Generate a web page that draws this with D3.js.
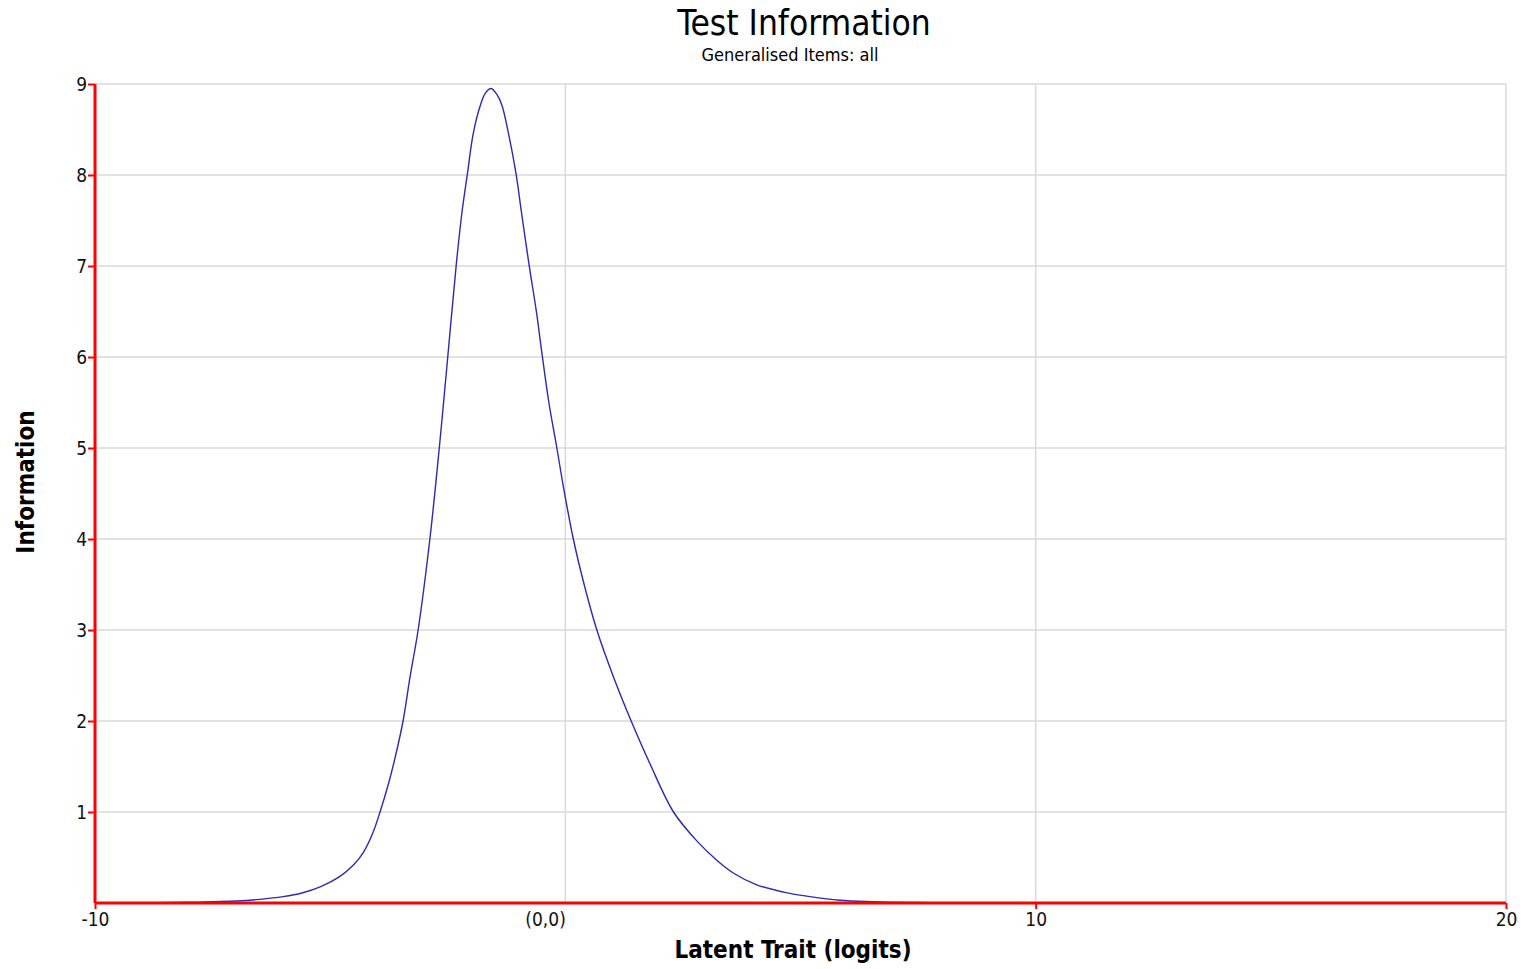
<!DOCTYPE html>
<html><head><meta charset="utf-8">
<script src="https://cdn.jsdelivr.net/npm/d3@7"></script>
<style>
html,body{margin:0;padding:0;background:#fff;}
svg text{font-family:"Liberation Sans Narrow","DejaVu Sans Condensed","Liberation Sans",sans-serif;}
</style></head>
<body><svg id="c" width="1524" height="969"></svg>
<script>
const theta = [-10, -9, -8, -7.5, -7, -6.5, -6, -5.6, -5.2, -4.8, -4.5, -4.3, -4.1, -3.94, -3.75, -3.6, -3.45, -3.3, -3.13, -2.88, -2.68, -2.5, -2.32, -2.2, -2.08, -1.96, -1.81, -1.7, -1.58, -1.45, -1.35, -1.21, -1.05, -0.93, -0.77, -0.61, -0.5, -0.35, -0.18, -0.04, 0.17, 0.4, 0.67, 1.02, 1.4, 1.8, 2.3, 2.8, 3.22, 3.57, 4.07, 4.64, 5.2, 5.84, 6.54, 7.5, 8.5, 10];
const information = [0.0, 0.003, 0.008, 0.015, 0.022, 0.04, 0.07, 0.11, 0.18, 0.29, 0.42, 0.55, 0.76, 1.0, 1.33, 1.64, 2.0, 2.49, 3.0, 4.0, 5.0, 6.0, 7.01, 7.58, 8.02, 8.45, 8.76, 8.90, 8.95, 8.88, 8.77, 8.46, 8.02, 7.58, 7.01, 6.48, 6.05, 5.5, 5.0, 4.57, 4.0, 3.5, 3.0, 2.49, 2.0, 1.53, 1.0, 0.68, 0.47, 0.33, 0.20, 0.12, 0.07, 0.03, 0.015, 0.006, 0.002, 0.0];
const xTickValues = [-10, 0, 10, 20];
const xTickLabels = ["-10", "(0,0)", "10", "20"];
const yTickValues = [1, 2, 3, 4, 5, 6, 7, 8, 9];
const titleText = "Test Information";
const subtitleText = "Generalised Items: all";
const xTitle = "Latent Trait (logits)";
const yTitle = "Information";

const svg = d3.select("#c");
const L = 95, R = 1506, T = 84, B = 903;
const x = d3.scaleLinear().domain([-10, 20]).range([L, R]);
const y = d3.scaleLinear().domain([0, 9]).range([B, T]);

// grid
svg.append("g").selectAll("line").data(yTickValues).join("line")
  .attr("x1", L).attr("x2", R).attr("y1", d => y(d)).attr("y2", d => y(d))
  .attr("stroke", "#d9d9d9").attr("stroke-width", 1.5);
svg.append("g").selectAll("line").data(xTickValues.slice(1)).join("line")
  .attr("x1", d => x(d)).attr("x2", d => x(d)).attr("y1", T).attr("y2", B)
  .attr("stroke", "#d9d9d9").attr("stroke-width", 1.5);

// curve
const pts = theta.map((t, i) => [t, information[i]]);
svg.append("path").datum(pts)
  .attr("d", d3.line().x(d => x(d[0])).y(d => y(Math.max(0, d[1]))).curve(d3.curveCatmullRom.alpha(0.5)))
  .attr("fill", "none").attr("stroke", "#2a2ab4").attr("stroke-width", 1.4);

const tickFont = "'Liberation Sans Narrow','DejaVu Sans Condensed',sans-serif";
// axes
const yAxis = d3.axisLeft(y).tickValues(yTickValues).tickSize(7).tickPadding(1);
const gy = svg.append("g").attr("transform", `translate(${L},0)`).call(yAxis);
gy.select(".domain").attr("stroke", "red").attr("stroke-width", 3).attr("d", `M0,${T}V${B}`);
gy.selectAll(".tick line").attr("stroke", "red").attr("stroke-width", 2);
gy.selectAll(".tick text").attr("font-size", 19).attr("fill", "#111").attr("font-family", tickFont);

const xAxis = d3.axisBottom(x).tickValues(xTickValues).tickSize(6).tickPadding(4)
  .tickFormat((d, i) => xTickLabels[i]);
const gx = svg.append("g").attr("transform", `translate(0,${B})`).call(xAxis);
gx.select(".domain").attr("stroke", "red").attr("stroke-width", 3).attr("d", `M${L},0H${R}`);
gx.selectAll(".tick line").attr("stroke", "red").attr("stroke-width", 2)
  .attr("y2", d => d === 0 ? 0 : 6);
gx.selectAll(".tick text").attr("font-size", 19).attr("fill", "#111").attr("font-family", tickFont)
  .attr("text-anchor", d => d === 0 ? "end" : "middle");

// titles
svg.append("text").attr("x", 804).attr("y", 35).attr("text-anchor", "middle")
  .attr("font-size", 35).attr("fill", "#000").text(titleText);
svg.append("text").attr("x", 790).attr("y", 61).attr("text-anchor", "middle")
  .attr("font-size", 18).attr("fill", "#000").text(subtitleText);
svg.append("text").attr("x", 793).attr("y", 958).attr("text-anchor", "middle")
  .attr("font-size", 24).attr("font-weight", "bold")
  .attr("font-family", "'Liberation Sans',Arial,sans-serif").attr("fill", "#000").text(xTitle);
svg.append("text").attr("transform", "translate(34,482) rotate(-90)").attr("text-anchor", "middle")
  .attr("font-size", 24).attr("font-weight", "bold")
  .attr("font-family", "'Liberation Sans',Arial,sans-serif").attr("fill", "#000").text(yTitle);
</script></body></html>
